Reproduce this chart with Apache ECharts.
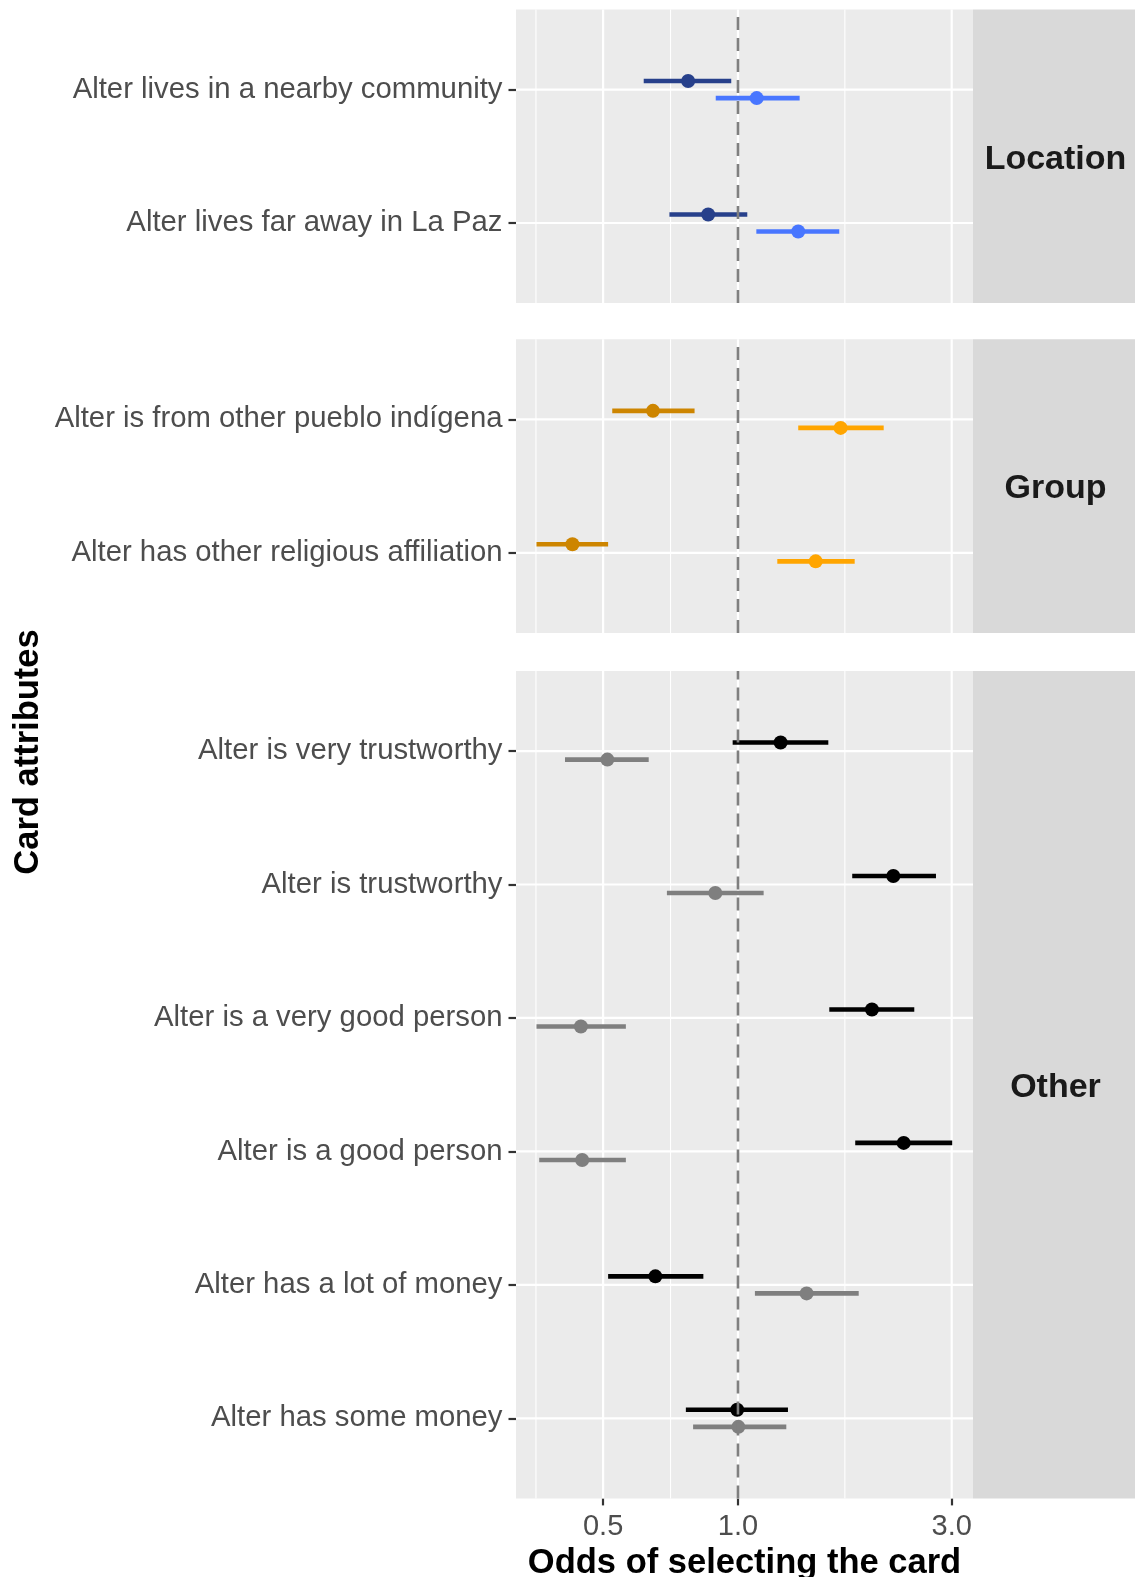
<!DOCTYPE html>
<html><head><meta charset="utf-8">
<script src="https://cdn.jsdelivr.net/npm/echarts@6/dist/echarts.min.js"></script>
<style>html,body{margin:0;padding:0;background:#fff}#c{width:1135px;height:1577px}</style>
</head><body><div id="c"></div>
<script>
// ---------- data ----------
const facetNames = ['Location', 'Group', 'Other'];

const locationCats = ['Alter lives in a nearby community', 'Alter lives far away in La Paz'];
const groupCats = ['Alter is from other pueblo indígena', 'Alter has other religious affiliation'];
const otherCats = ['Alter is very trustworthy', 'Alter is trustworthy', 'Alter is a very good person',
  'Alter is a good person', 'Alter has a lot of money', 'Alter has some money'];

// first (darker) estimate
const locationEst1 = [0.774, 0.858];
const locationLo1  = [0.616, 0.703];
const locationHi1  = [0.966, 1.049];
// second (lighter) estimate
const locationEst2 = [1.101, 1.363];
const locationLo2  = [0.892, 1.099];
const locationHi2  = [1.373, 1.683];

const groupEst1 = [0.646, 0.427];
const groupLo1  = [0.524, 0.355];
const groupHi1  = [0.800, 0.513];
const groupEst2 = [1.695, 1.491];
const groupLo2  = [1.363, 1.224];
const groupHi2  = [2.115, 1.822];

const otherEst1 = [1.245, 2.222, 1.991, 2.344, 0.654, 0.996];
const otherLo1  = [0.973, 1.799, 1.599, 1.827, 0.513, 0.765];
const otherHi1  = [1.591, 2.767, 2.475, 3.008, 0.837, 1.293];
const otherEst2 = [0.511, 0.890, 0.446, 0.449, 1.423, 1.002];
const otherLo2  = [0.411, 0.694, 0.355, 0.360, 1.091, 0.794];
const otherHi2  = [0.632, 1.141, 0.562, 0.562, 1.860, 1.282];

const tickValues = [0.5, 1.0, 3.0];
const tickLabels = ['0.5', '1.0', '3.0'];
const minorGridValues = [0.354, 0.707, 1.732];
const referenceValue = 1;
const xRange = [0.3195, 3.347];

// ---------- styling / layout ----------
const facetColors = [['#27408B', '#4876FF'], ['#CD8500', '#FFA500'], ['#000000', '#7F7F7F']];
const FONT = '"Liberation Sans", Arial, Helvetica, sans-serif';
const unit = 133.45;
const panelTops = [9.5, 339.3, 671];
const panelLeft = 516, panelWidth = 457;
const stripX = 973, stripW = 162;
const dodge = 0.064;

const facets = [
  {cats: locationCats, s1: [locationEst1, locationLo1, locationHi1], s2: [locationEst2, locationLo2, locationHi2]},
  {cats: groupCats, s1: [groupEst1, groupLo1, groupHi1], s2: [groupEst2, groupLo2, groupHi2]},
  {cats: otherCats, s1: [otherEst1, otherLo1, otherHi1], s2: [otherEst2, otherLo2, otherHi2]}
];

const L = Math.log10;
const grids = [], xAxes = [], yAxes = [], series = [], graphics = [];
const hiddenLine = {show: true, onZero: false, lineStyle: {color: 'rgba(0,0,0,0)', width: 0}};

facets.forEach((f, i) => {
  const n = f.cats.length;
  const h = (n + 0.2) * unit;
  const top = panelTops[i];
  const isLast = i === facets.length - 1;
  grids.push({left: panelLeft, width: panelWidth, top: top, height: h, show: true,
    backgroundColor: '#EBEBEB', borderWidth: 0, containLabel: false, outerBoundsMode: 'none'});
  xAxes.push({
    gridIndex: i, type: 'value', min: L(xRange[0]), max: L(xRange[1]),
    splitLine: {show: false}, axisLine: hiddenLine,
    axisTick: {show: isLast, customValues: tickValues.map(L), length: 7, lineStyle: {color: '#333333', width: 2.2}},
    axisLabel: {show: isLast, customValues: tickValues.map(L), margin: 14, fontSize: 29, color: '#4D4D4D', fontFamily: FONT,
      formatter: v => { const k = tickValues.findIndex(t => Math.abs(L(t) - v) < 1e-6); return k >= 0 ? tickLabels[k] : ''; }},
    name: isLast ? 'Odds of selecting the card' : '', nameLocation: 'middle', nameGap: 41,
    nameTextStyle: {fontSize: 34.5, fontWeight: 'bold', color: '#000', fontFamily: FONT}
  });
  const yVals = f.cats.map((c, j) => j + 1);
  yAxes.push({
    gridIndex: i, type: 'value', inverse: true, min: 0.4, max: n + 0.6,
    splitLine: {show: false}, axisLine: hiddenLine,
    axisTick: {show: true, customValues: yVals, length: 7.5, lineStyle: {color: '#333333', width: 2.2}},
    axisLabel: {show: true, customValues: yVals, margin: 13.5, fontSize: 29.3, color: '#4D4D4D', fontFamily: FONT,
      padding: [8, 0, 0, 0],
      formatter: v => f.cats[Math.round(v) - 1] || ''}
  });

  const vGrid = (vals, w) => ({
    type: 'custom', xAxisIndex: i, yAxisIndex: i, z: 1, silent: true, encode: {x: 0, y: 1},
    data: vals.map(v => [L(v), 1]),
    renderItem: (params, api) => {
      const p = api.coord([api.value(0), api.value(1)]);
      const cs = params.coordSys;
      return {type: 'line', shape: {x1: p[0], y1: cs.y, x2: p[0], y2: cs.y + cs.height},
        style: {stroke: '#FFFFFF', lineWidth: w}};
    }
  });
  series.push(vGrid(minorGridValues, 1.1));
  series.push(vGrid(tickValues, 2.2));
  series.push({
    type: 'custom', xAxisIndex: i, yAxisIndex: i, z: 1, silent: true, encode: {x: 0, y: 1},
    data: yVals.map(y => [0, y]),
    renderItem: (params, api) => {
      const p = api.coord([api.value(0), api.value(1)]);
      const cs = params.coordSys;
      return {type: 'line', shape: {x1: cs.x, y1: p[1], x2: cs.x + cs.width, y2: p[1]},
        style: {stroke: '#FFFFFF', lineWidth: 2.2}};
    }
  });

  [[f.s1, -dodge, facetColors[i][0]], [f.s2, dodge, facetColors[i][1]]].forEach(([s, off, col], k) => {
    series.push({
      type: 'custom', name: 'estimate ' + (k + 1), xAxisIndex: i, yAxisIndex: i, z: 2, encode: {x: 0, y: 1},
      data: f.cats.map((c, j) => [L(s[0][j]), j + 1 + off, L(s[1][j]), L(s[2][j])]),
      renderItem: (params, api) => {
        const y = api.value(1);
        const c = api.coord([api.value(0), y]);
        const lo = api.coord([api.value(2), y]);
        const hi = api.coord([api.value(3), y]);
        return {type: 'group', children: [
          {type: 'line', shape: {x1: lo[0], y1: lo[1], x2: hi[0], y2: hi[1]},
            style: {stroke: col, lineWidth: 4.6, lineCap: 'butt'}},
          {type: 'circle', shape: {cx: c[0], cy: c[1], r: 7}, style: {fill: col}}
        ]};
      }
    });
  });

  series.push({
    type: 'custom', xAxisIndex: i, yAxisIndex: i, z: 3, silent: true, encode: {x: 0, y: 1},
    data: [[L(referenceValue), 1]],
    renderItem: (params, api) => {
      const p = api.coord([api.value(0), api.value(1)]);
      const cs = params.coordSys;
      return {type: 'line', shape: {x1: p[0], y1: cs.y + cs.height, x2: p[0], y2: cs.y},
        style: {stroke: '#7F7F7F', lineWidth: 2.6, lineDash: [13, 8]}};
    }
  });

  graphics.push({type: 'rect', shape: {x: stripX, y: top, width: stripW, height: h}, style: {fill: '#D9D9D9'}});
  graphics.push({type: 'text', x: stripX + stripW / 2 + 1.5, y: top + h / 2 + 3,
    style: {text: facetNames[i], fontSize: 34, fontWeight: 'bold', fontFamily: FONT, fill: '#1A1A1A',
      align: 'center', verticalAlign: 'middle'}});
});

graphics.push({type: 'text', x: 28, y: 752, rotation: Math.PI / 2,
  style: {text: 'Card attributes', fontSize: 34.5, fontWeight: 'bold', fontFamily: FONT, fill: '#000',
    align: 'center', verticalAlign: 'middle'}});

const chart = echarts.init(document.getElementById('c'), null, {renderer: 'canvas'});
chart.setOption({
  backgroundColor: '#FFFFFF',
  animation: false,
  grid: grids, xAxis: xAxes, yAxis: yAxes, series: series, graphic: graphics
});
</script>
</body></html>
